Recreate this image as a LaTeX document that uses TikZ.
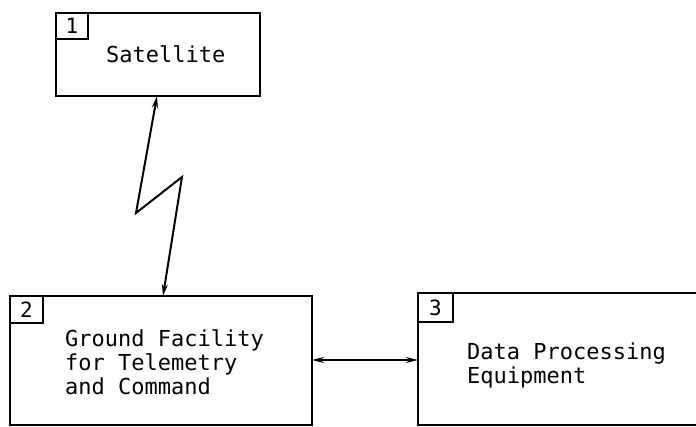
\documentclass[tikz,border=0pt]{standalone}
\usepackage{fontspec}
\setmonofont{DejaVu Sans Mono}
\usetikzlibrary{arrows.meta}
\begin{document}
\begin{tikzpicture}[x=1pt,y=-1pt,
  box/.style={draw, line width=2.8pt, anchor=north west, inner sep=0pt, outer sep=0pt},
  numbox/.style={draw, line width=2.4pt, anchor=north west, inner sep=0pt, outer sep=0pt,
    font=\ttfamily\fontsize{21}{24}\selectfont},
  lbl/.style={anchor=base west, inner sep=0pt, font=\ttfamily\fontsize{22}{24}\selectfont},
  link/.style={line width=2pt, {Stealth[length=12pt,width=6pt]}-{Stealth[length=12pt,width=6pt]}}]
\useasboundingbox (0,0) rectangle (696,427);
\clip (0,0) rectangle (696,427);
% boxes
\node[box, minimum width=204pt, minimum height=83pt] (sat) at (56,13) {};
\node[box, minimum width=302pt, minimum height=129pt] (gf) at (10,296) {};
\node[box, minimum width=290pt, minimum height=132pt] (dp) at (418,293) {};
% number boxes
\node[numbox, minimum width=32pt, minimum height=26pt] (n1) at (56,13) {1};
\node[numbox, minimum width=33pt, minimum height=27pt] (n2) at (10,296) {2};
\node[numbox, minimum width=35pt, minimum height=29pt] (n3) at (418,293) {3};
% labels
\node[lbl] (t1) at (106,63) {Satellite};
\node[lbl] (t2a) at (65,347) {Ground Facility};
\node[lbl] (t2b) at (65,371) {for Telemetry};
\node[lbl] (t2c) at (65,395) {and Command};
\node[lbl] (t3a) at (467,360) {Data Processing};
\node[lbl] (t3b) at (467,384) {Equipment};
% radio link
\coordinate (ltop) at (157,0);
\coordinate (k1) at (136,213);
\coordinate (k2) at (182,177);
\coordinate (lbot) at (163,0);
\draw[link, line join=miter] (ltop |- sat.south) -- (k1) -- (k2) -- (lbot |- gf.north);
% data link
\coordinate (dl) at (0,360);
\draw[link] (gf.east |- dl) -- (dp.west |- dl);
\end{tikzpicture}
\end{document}
